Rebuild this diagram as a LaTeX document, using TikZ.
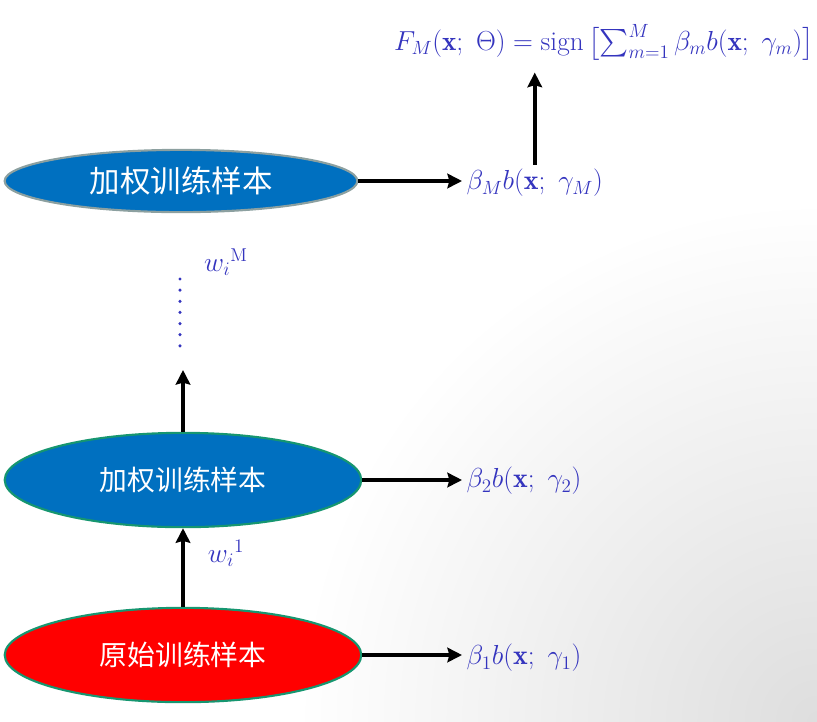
\documentclass[tikz,border=0pt]{standalone}
\usepackage{amsmath}
\usepackage{fontspec}
\newfontfamily\cjk{Noto Sans CJK SC}
\usetikzlibrary{arrows.meta,shapes.geometric}

\definecolor{slideblue}{RGB}{0,112,192}
\definecolor{rimgreen}{RGB}{22,150,112}
\definecolor{rimgray}{RGB}{140,160,160}
\definecolor{mathblue}{RGB}{52,52,190}

\tikzset{
  sample/.style={ellipse, draw=rimgreen, line width=1.6pt, fill=slideblue,
    text=white, inner sep=0pt, minimum width=9.45cm, minimum height=2.5cm,
    font=\cjk\fontsize{21}{25}\selectfont},
  topsample/.style={sample, draw=rimgray, minimum width=9.35cm, minimum height=1.65cm,
    font=\cjk\fontsize{23}{27}\selectfont},
  learner/.style={text=mathblue, anchor=west, font=\fontsize{21}{25}\selectfont},
  weight/.style={text=mathblue, font=\fontsize{20}{24}\selectfont},
  flow/.style={-{Stealth[length=11pt,width=11pt,inset=1.5pt]}, line width=3pt}
}

\begin{document}
\begin{tikzpicture}[x=0.0265cm, y=-0.0265cm]
        \useasboundingbox (0,0) rectangle (817,721);

        % Slide background
        \begin{scope}
          \clip (0,0) rectangle (817,721);
          \shade[inner color=black!13, outer color=white] (817,721) circle (520);
        \end{scope}

        % Samples
        \node[topsample] (wM) at (181,181) {加权训练样本};
        \node[sample] (w2) at (183,480) {加权训练样本};
        \node[sample, fill=red] (w1) at (183,655) {原始训练样本};

        % Weak learners
        \node[learner] (bM) at (462,183) {$\beta_M b(\mathbf{x};\ \gamma_M)$};
        \node[learner] (b2) at (462,481) {$\beta_2 b(\mathbf{x};\ \gamma_2)$};
        \node[learner] (b1) at (462,658) {$\beta_1 b(\mathbf{x};\ \gamma_1)$};

        % Final classifier
        \node[weight, font=\fontsize{20.5}{24}\selectfont] (F) at (604,42) {$F_M(\mathbf{x};\ \Theta) = \mathrm{sign}\,\bigl[\sum_{m=1}^{M} \beta_m b(\mathbf{x};\ \gamma_m)\bigr]$};

        % Weights
        \node[weight] (wt1) at (226,553) {$w_i{}^{1}$};
        \node[weight] (wtM) at (226,262) {$w_i{}^{\mathrm{M}}$};

        % Arrows
        \draw[flow] (wM.east) -- (wM.east -| bM.west);
        \draw[flow] (w2.east) -- (w2.east -| b2.west);
        \draw[flow] (w1.east) -- (w1.east -| b1.west);
        \draw[flow, shorten >=6pt] (bM.north) -- (bM.north |- F.south);
        \draw[flow] (w1.north) -- (w2.south);

        % Omitted rounds
        \coordinate (gap) at (183,370);
        \coordinate (dotstop) at (180,279);
        \coordinate (dotsbot) at (180,346);
        \draw[flow] (w2.north) -- (gap);
        \draw[mathblue, line width=2.6pt, line cap=round, dash pattern=on 0pt off 8.4pt] (dotstop) -- (dotsbot);
    \end{tikzpicture}
\end{document}
